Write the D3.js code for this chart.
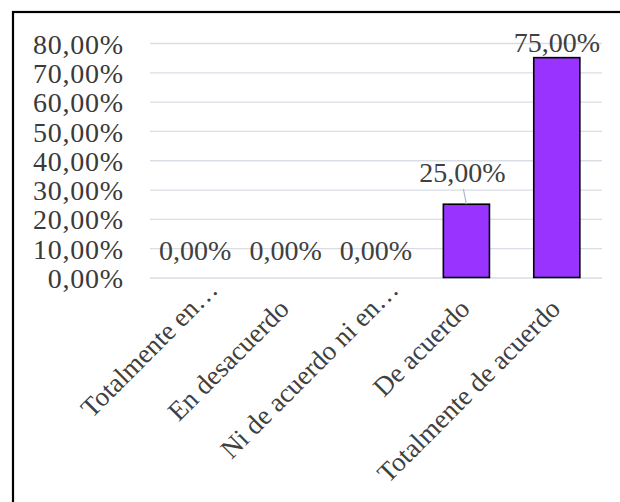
<!DOCTYPE html>
<html>
<head>
<meta charset="utf-8">
<script src="https://cdn.jsdelivr.net/npm/d3@7"></script>
<style>
  body { margin: 0; background: #fff; }
  text { font-family: "Liberation Serif", "Times New Roman", serif; }
</style>
</head>
<body>
<svg id="chart"></svg>
<script>
// chart data
const categories = ["Totalmente en\u2026", "En desacuerdo", "Ni de acuerdo ni en\u2026", "De acuerdo", "Totalmente de acuerdo"];
const values = [0, 0, 0, 25, 75];
const yTicks = [0, 10, 20, 30, 40, 50, 60, 70, 80];

const width = 620, height = 502;
const margin = {top: 43, bottom: 225, left: 150, right: 18};

const fmt = v => d3.format(".2f")(v).replace(".", ",") + "%";

const svg = d3.select("#chart")
    .attr("width", width)
    .attr("height", height);

// frame around the chart
svg.append("rect")
    .attr("x", 13).attr("y", 12)
    .attr("width", width).attr("height", height)
    .attr("fill", "none")
    .attr("stroke", "#000")
    .attr("stroke-width", 2.2);

// scales
const x = d3.scaleBand()
    .domain(categories)
    .range([margin.left, width - margin.right])
    .paddingInner(0.49)
    .paddingOuter(0.245);

const y = d3.scaleLinear()
    .domain([0, 80])
    .range([height - margin.bottom + 0.5, margin.top]);

// gridlines
svg.append("g")
    .attr("transform", `translate(${margin.left},0)`)
    .call(d3.axisLeft(y).tickValues(yTicks).tickSize(-(width - margin.left - margin.right)).tickFormat(""))
    .call(g => g.select(".domain").remove())
    .call(g => g.selectAll("line").attr("stroke", "#d9dee6").attr("stroke-width", 1.3));

// y axis labels
svg.append("g")
    .attr("transform", `translate(124,0)`)
    .call(d3.axisLeft(y).tickValues(yTicks).tickSize(0).tickPadding(0).tickFormat(fmt))
    .call(g => g.select(".domain").remove())
    .call(g => g.selectAll("text")
        .attr("font-size", 28)
        .attr("letter-spacing", 0.8)
        .attr("fill", "#3a3a3a")
        .attr("font-family", "Liberation Serif")
        .attr("dy", "0.36em"));

// bars
svg.selectAll("rect.bar")
    .data(values)
    .enter().append("rect")
    .attr("class", "bar")
    .attr("x", (d, i) => x(categories[i]))
    .attr("y", d => y(d))
    .attr("width", x.bandwidth())
    .attr("height", d => y(0) - y(d))
    .attr("fill", "#9933ff")
    .attr("stroke", "#000")
    .attr("stroke-width", 1.6)
    .style("display", d => d > 0 ? null : "none");

// data labels (the 25% one is pulled up with a leader line)
const labelLift = (d, i) => d === 0 ? 18 : (i === 3 ? 22 : 6);

svg.selectAll("line.leader")
    .data(values.filter((d, i) => i === 3))
    .enter().append("line")
    .attr("class", "leader")
    .attr("x1", x(categories[3]) + x.bandwidth() / 2 - 3)
    .attr("y1", d => y(d) - 15)
    .attr("x2", x(categories[3]) + x.bandwidth() / 2)
    .attr("y2", d => y(d))
    .attr("stroke", "#a9b8cc")
    .attr("stroke-width", 1.2);

svg.selectAll("text.value")
    .data(values)
    .enter().append("text")
    .attr("class", "value")
    .attr("x", (d, i) => x(categories[i]) + x.bandwidth() / 2 - (i === 3 ? 4 : 0))
    .attr("y", (d, i) => y(d) - labelLift(d, i))
    .attr("text-anchor", "middle")
    .attr("font-size", 28)
    .attr("fill", "#404040")
    .text(d => fmt(d));

// category labels, rotated
svg.selectAll("text.cat")
    .data(categories)
    .enter().append("text")
    .attr("class", "cat")
    .attr("transform", d => `translate(${x(d) + x.bandwidth() / 2 + 5},${y(0) + 33}) rotate(-45)`)
    .attr("dx", d => d.endsWith("\u2026") ? 27 : 0)
    .attr("text-anchor", "end")
    .attr("font-size", 27)
    .attr("fill", "#404040")
    .text(d => d);
</script>
</body>
</html>
